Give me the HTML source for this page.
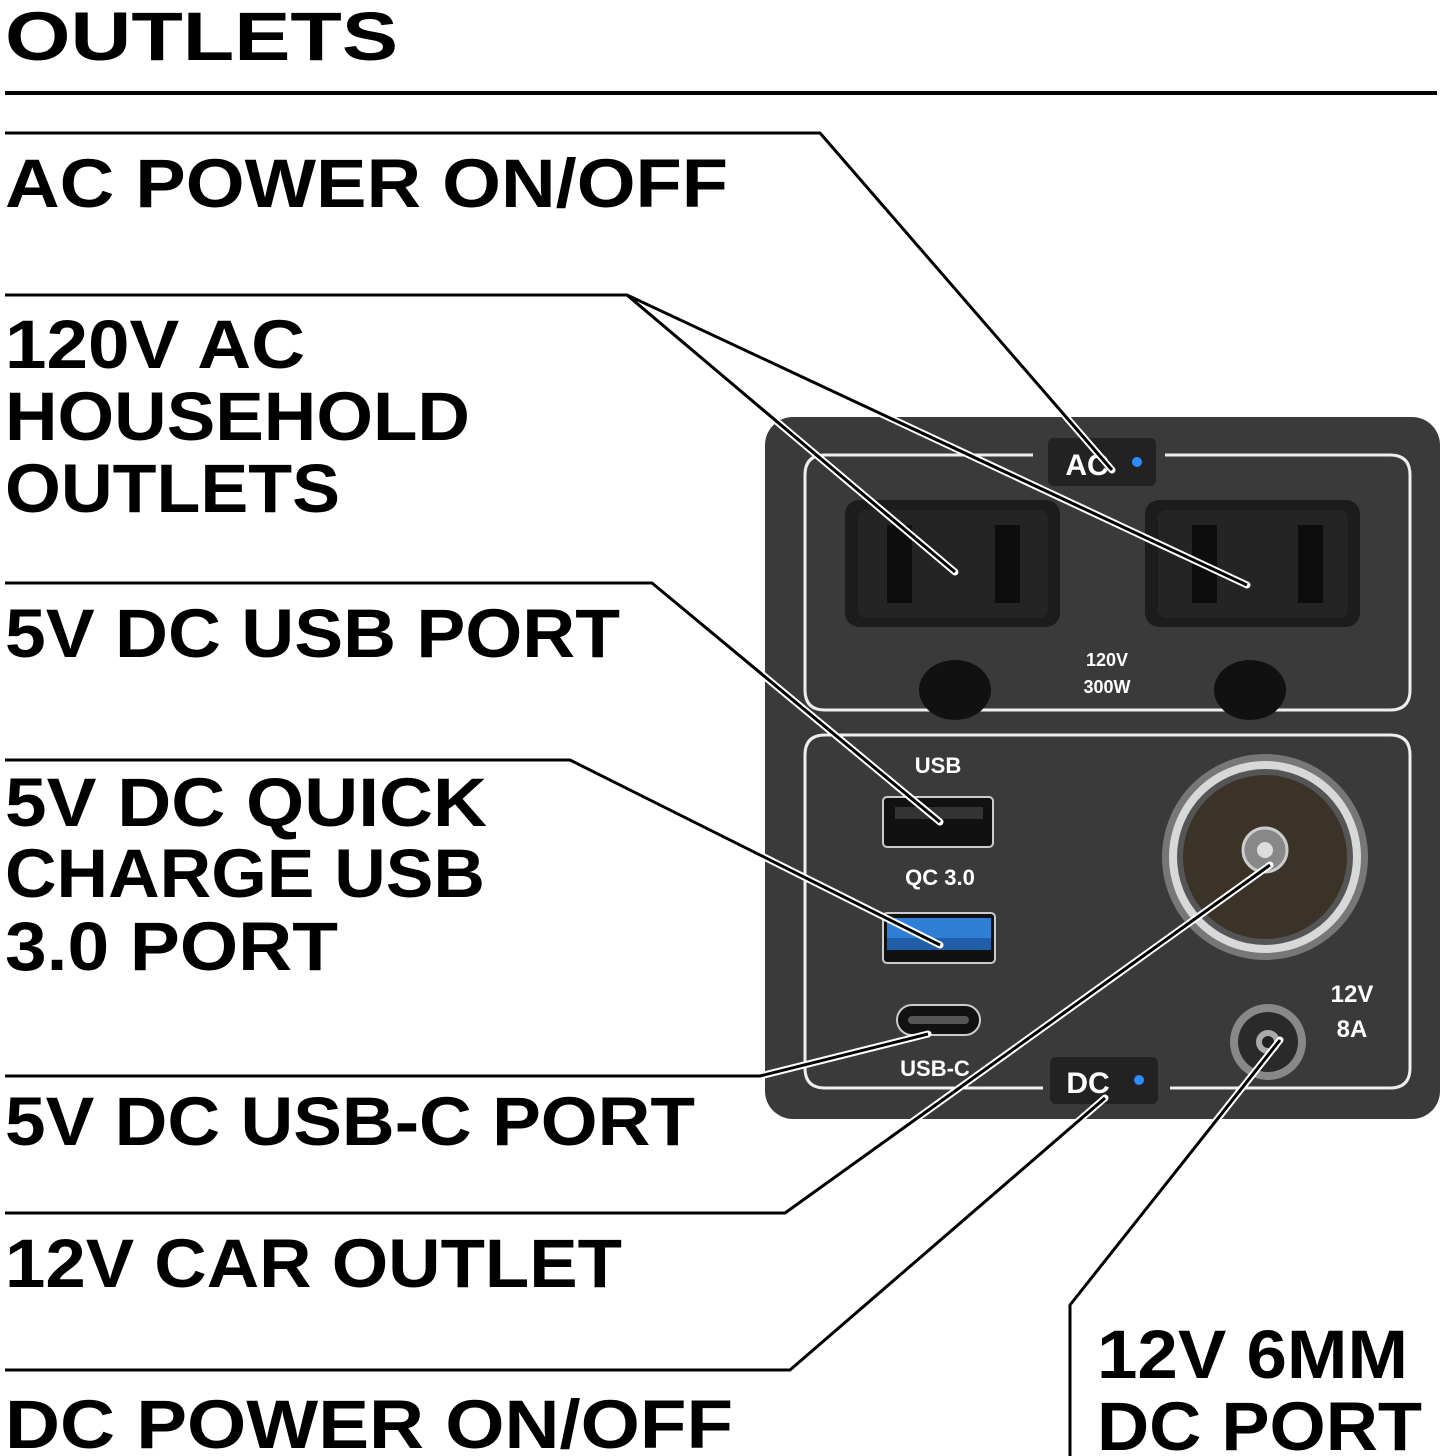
<!DOCTYPE html>
<html><head><meta charset="utf-8"><style>
html,body{margin:0;padding:0;background:#fff;}
svg{display:block;}
.t{font-family:"Liberation Sans",sans-serif;font-weight:bold;font-size:69px;fill:#000;}
.w{font-family:"Liberation Sans",sans-serif;font-weight:bold;fill:#fff;text-anchor:middle;}
</style></head><body>
<svg width="1445" height="1456" viewBox="0 0 1445 1456" xmlns="http://www.w3.org/2000/svg">
<defs><clipPath id="pc"><rect x="765" y="417" width="675" height="702" rx="28"/></clipPath></defs>
<!-- panel -->
<rect x="765" y="417" width="675" height="702" rx="28" fill="#3a3a3b"/>
<path d="M1033 455 H825 Q805 455 805 475 V690 Q805 710 825 710 H1390 Q1410 710 1410 690 V475 Q1410 455 1390 455 H1165" fill="none" stroke="#eee" stroke-width="3"/>
<path d="M1043 1088 H825 Q805 1088 805 1068 V755 Q805 735 825 735 H1390 Q1410 735 1410 755 V1068 Q1410 1088 1390 1088 H1170" fill="none" stroke="#eee" stroke-width="3"/>
<!-- AC button -->
<rect x="1048" y="438" width="108" height="48" rx="6" fill="#222"/>
<text class="w" x="1087" y="475" font-size="30">AC</text>
<circle cx="1137" cy="462" r="5" fill="#2a8cff"/>
<!-- outlets -->
<rect x="845" y="500" width="215" height="127" rx="14" fill="#1c1c1c"/>
<rect x="858" y="510" width="190" height="108" rx="8" fill="#242424"/>
<rect x="887" y="525" width="25" height="78" fill="#0d0d0d"/>
<rect x="995" y="525" width="25" height="78" fill="#0d0d0d"/>
<rect x="1145" y="500" width="215" height="127" rx="14" fill="#1c1c1c"/>
<rect x="1158" y="510" width="190" height="108" rx="8" fill="#242424"/>
<rect x="1192" y="525" width="25" height="78" fill="#0d0d0d"/>
<rect x="1298" y="525" width="25" height="78" fill="#0d0d0d"/>
<ellipse cx="955" cy="690" rx="36" ry="30" fill="#111"/>
<ellipse cx="1250" cy="690" rx="36" ry="30" fill="#111"/>
<text class="w" x="1107" y="666" font-size="18">120V</text>
<text class="w" x="1107" y="693" font-size="18">300W</text>
<!-- USB -->
<text class="w" x="938" y="773" font-size="22">USB</text>
<rect x="883" y="797" width="110" height="50" rx="4" fill="#111" stroke="#ccc" stroke-width="2"/>
<rect x="895" y="807" width="88" height="12" fill="#333"/>
<text class="w" x="940" y="885" font-size="22">QC 3.0</text>
<rect x="883" y="913" width="112" height="50" rx="4" fill="#111" stroke="#ccc" stroke-width="2"/>
<rect x="887" y="918" width="104" height="20" fill="#2f7fd6"/>
<rect x="887" y="938" width="104" height="12" fill="#1f5faa"/>
<rect x="897" y="1005" width="83" height="30" rx="15" fill="#111" stroke="#ccc" stroke-width="2"/>
<rect x="908" y="1016" width="61" height="8" rx="4" fill="#555"/>
<text class="w" x="935" y="1076" font-size="22">USB-C</text>
<!-- car outlet -->
<circle cx="1265" cy="857" r="103" fill="#777"/>
<circle cx="1265" cy="857" r="96" fill="#d8d8d8"/>
<circle cx="1265" cy="857" r="88" fill="#555"/>
<circle cx="1265" cy="857" r="82" fill="#3b3328"/>
<circle cx="1265" cy="850" r="22" fill="#888" stroke="#ccc" stroke-width="3"/>
<circle cx="1265" cy="850" r="8" fill="#ddd"/>
<!-- DC port -->
<circle cx="1268" cy="1042" r="38" fill="#888"/>
<circle cx="1268" cy="1042" r="30" fill="#2a2a2a"/>
<circle cx="1268" cy="1042" r="12" fill="#aaa"/>
<circle cx="1268" cy="1042" r="6" fill="#222"/>
<text class="w" x="1352" y="1002" font-size="24">12V</text>
<text class="w" x="1352" y="1037" font-size="24">8A</text>
<!-- DC button -->
<rect x="1050" y="1057" width="108" height="47" rx="6" fill="#222"/>
<text class="w" x="1088" y="1093" font-size="30">DC</text>
<circle cx="1139" cy="1080" r="5" fill="#2a8cff"/>
<!-- leader lines -->
<g fill="none" stroke="#fff" stroke-width="7" stroke-linejoin="round" stroke-linecap="round" clip-path="url(#pc)">
<path d="M820 133 L1112 470"/>
<path d="M627 295 L955 572 M627 295 L1247 585"/>
<path d="M652 583 L940 822"/>
<path d="M570 760 L940 945"/>
<path d="M760 1076 L928 1034"/>
<path d="M785 1213 L1270 865"/>
<path d="M790 1370 L1105 1098"/>
<path d="M1070 1305 L1280 1040"/>
</g>
<g fill="none" stroke="#000" stroke-width="3" stroke-linejoin="round">
<path d="M5 93 H1437" stroke-width="4"/>
<path d="M5 133 H820 L1112 470"/>
<path d="M5 295 H627 L955 572 M627 295 L1247 585"/>
<path d="M5 583 H652 L940 822"/>
<path d="M5 760 H570 L940 945"/>
<path d="M5 1076 H760 L928 1034"/>
<path d="M5 1213 H785 L1270 865"/>
<path d="M5 1370 H790 L1105 1098"/>
<path d="M1070 1456 V1305 L1280 1040"/>
</g>
<!-- labels -->
<text class="t" x="5" y="60" textLength="393" lengthAdjust="spacingAndGlyphs">OUTLETS</text>
<text class="t" x="5" y="207" textLength="723" lengthAdjust="spacingAndGlyphs">AC POWER ON/OFF</text>
<text class="t" x="5" y="368" textLength="300" lengthAdjust="spacingAndGlyphs">120V AC</text>
<text class="t" x="5" y="440" textLength="465" lengthAdjust="spacingAndGlyphs">HOUSEHOLD</text>
<text class="t" x="5" y="512" textLength="335" lengthAdjust="spacingAndGlyphs">OUTLETS</text>
<text class="t" x="5" y="657" textLength="615" lengthAdjust="spacingAndGlyphs">5V DC USB PORT</text>
<text class="t" x="5" y="826" textLength="482" lengthAdjust="spacingAndGlyphs">5V DC QUICK</text>
<text class="t" x="5" y="897" textLength="480" lengthAdjust="spacingAndGlyphs">CHARGE USB</text>
<text class="t" x="5" y="970" textLength="333" lengthAdjust="spacingAndGlyphs">3.0 PORT</text>
<text class="t" x="5" y="1145" textLength="690" lengthAdjust="spacingAndGlyphs">5V DC USB-C PORT</text>
<text class="t" x="5" y="1287" textLength="617" lengthAdjust="spacingAndGlyphs">12V CAR OUTLET</text>
<text class="t" x="5" y="1448" textLength="728" lengthAdjust="spacingAndGlyphs">DC POWER ON/OFF</text>
<text class="t" x="1097" y="1378" textLength="311" lengthAdjust="spacingAndGlyphs">12V 6MM</text>
<text class="t" x="1097" y="1450" textLength="325" lengthAdjust="spacingAndGlyphs">DC PORT</text>
</svg>
</body></html>
